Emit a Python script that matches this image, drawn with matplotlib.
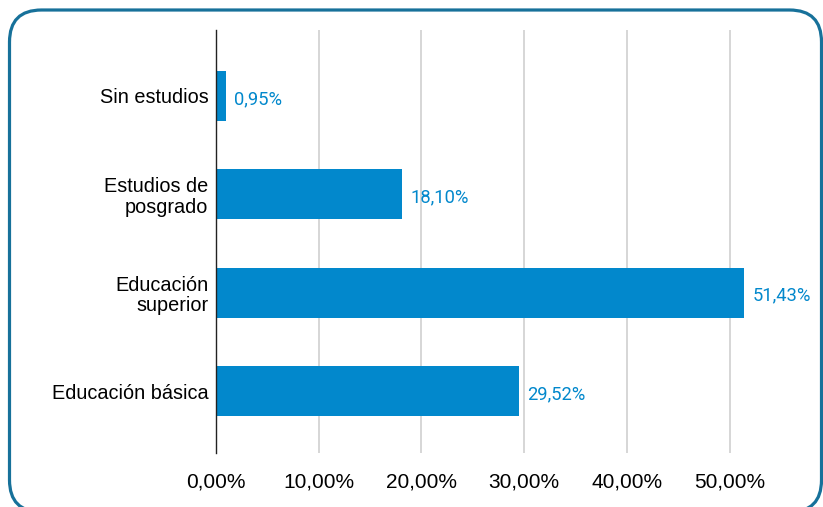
import matplotlib.pyplot as plt
from matplotlib.patches import FancyBboxPatch
from matplotlib.ticker import FuncFormatter

# datos
categorias = ['Educación básica', 'Educación\nsuperior', 'Estudios de\nposgrado', 'Sin estudios']
porcentajes = [29.52, 51.43, 18.10, 0.95]
etiquetas = ['29,52%', '51,43%', '18,10%', '0,95%']
ticks_x = [0, 10, 20, 30, 40, 50]

azul = '#0288CC'

fig = plt.figure(figsize=(8.23, 5.07), dpi=100)
W, H = 823, 507

# marco redondeado (en pixeles, y hacia arriba)
fondo = fig.add_axes([0, 0, 1, 1])
fondo.set_xlim(0, W)
fondo.set_ylim(0, H)
fondo.axis('off')
fondo.add_patch(FancyBboxPatch((9.5, H - 512), 812, 502,
                               boxstyle='round,pad=0,rounding_size=32',
                               fill=False, edgecolor='#17719a', linewidth=2.3))

ax = fig.add_axes([216 / W, (507 - 453) / H, (781 - 216) / W, (453 - 30) / H])
y = range(len(categorias))
ax.barh(y, porcentajes, height=0.51, color=azul, zorder=3)

for i, (v, t) in enumerate(zip(porcentajes, etiquetas)):
    ax.text(v + 0.8, i - 0.03, t, va='center', ha='left', color=azul,
            fontsize=13.2, family='Roboto')

ax.set_xlim(0, 55)
ax.set_ylim(-0.63, 3.67)
ax.set_xticks(ticks_x)
ax.xaxis.set_major_formatter(FuncFormatter(lambda v, p: f'{v:.2f}%'.replace('.', ',')))
ax.set_yticks(list(y))
ax.set_yticklabels(categorias, family='Liberation Sans', fontsize=14.3, linespacing=1.1)
for lab in ax.get_xticklabels():
    lab.set_family('Liberation Sans')
    lab.set_fontsize(15)

ax.grid(axis='x', color='#d0d0d0', linewidth=1.2, zorder=0)
ax.tick_params(axis='both', length=0)
ax.tick_params(axis='x', pad=14)
ax.tick_params(axis='y', pad=5.5)
for s in ['top', 'right', 'bottom']:
    ax.spines[s].set_visible(False)
ax.spines['left'].set_color('#222222')
ax.spines['left'].set_linewidth(1)
ax.spines['left'].set_zorder(4)

fig.savefig('out.png', dpi=100)
